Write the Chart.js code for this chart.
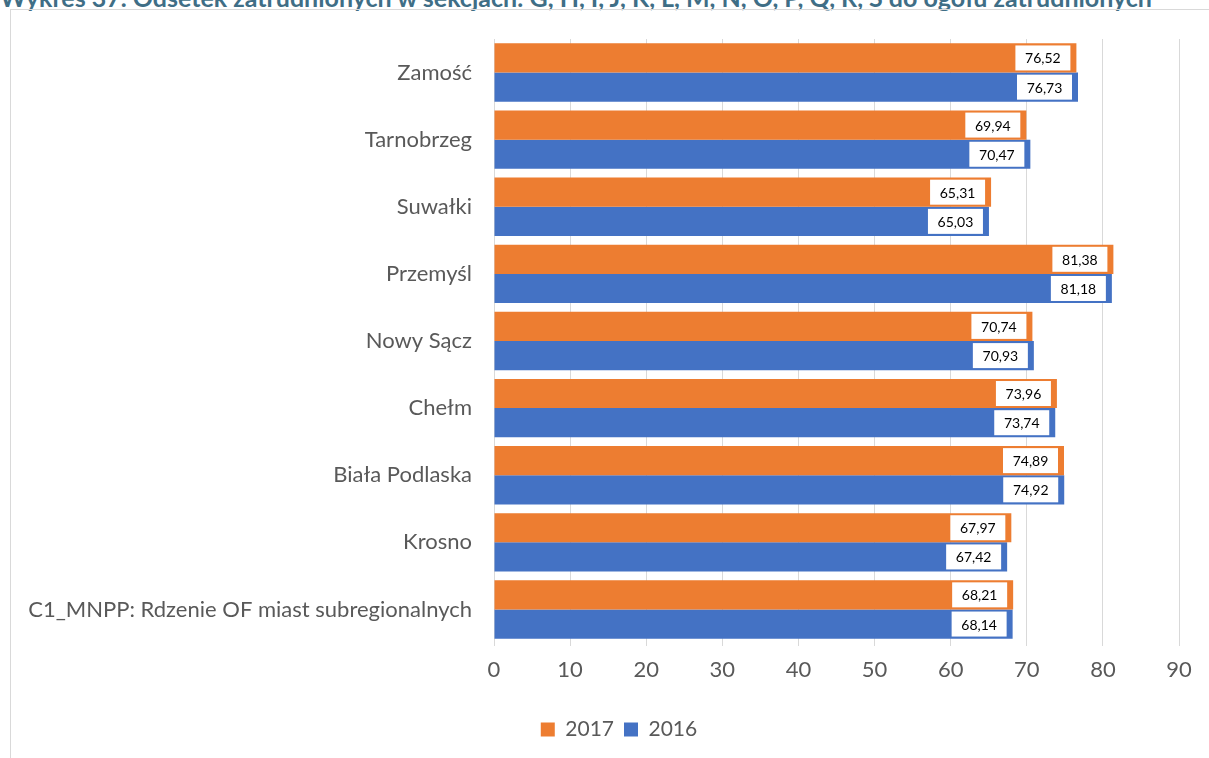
<!DOCTYPE html>
<html>
<head>
<meta charset="utf-8">
<script src="https://cdn.jsdelivr.net/npm/chart.js@4.4.0/dist/chart.umd.min.js"></script>
<style>
  html, body { margin: 0; padding: 0; background: #fff; overflow: hidden; }
  body { width: 1209px; height: 758px; position: relative; }
  #title {
    position: absolute; left: 0; top: -18px; white-space: nowrap; line-height: 24px;
    font: bold 25px "Lato", sans-serif; color: #3f6e86;
  }
  #frame {
    position: absolute; left: 10px; top: 9px; width: 1199px; height: 749px;
    border-left: 1px solid #d9d9d9; border-top: 1px solid #d9d9d9; box-sizing: border-box;
  }
  #wrap { position: absolute; left: 10px; top: 9px; width: 1218px; height: 749px; }
</style>
</head>
<body>
<div id="title">Wykres 37. Odsetek zatrudnionych w sekcjach: G, H, I, J, K, L, M, N, O, P, Q, R, S do ogółu zatrudnionych</div>
<div id="frame"></div>
<div id="wrap"><canvas id="chart"></canvas></div>
<script>
const categories = ['Zamość', 'Tarnobrzeg', 'Suwałki', 'Przemyśl', 'Nowy Sącz', 'Chełm', 'Biała Podlaska', 'Krosno', 'C1_MNPP: Rdzenie OF miast subregionalnych'];
const values2017 = [76.52, 69.94, 65.31, 81.38, 70.74, 73.96, 74.89, 67.97, 68.21];
const values2016 = [76.73, 70.47, 65.03, 81.18, 70.93, 73.74, 74.92, 67.42, 68.14];
const xTicks = [0, 10, 20, 30, 40, 50, 60, 70, 80, 90];

const fontFamily = 'Lato, sans-serif';
const gray = '#595959';

// white value boxes at the end of each bar
const valueBoxes = {
    id: 'valueBoxes',
    afterDatasetsDraw(chart) {
        const ctx = chart.ctx;
        ctx.save();
        ctx.font = '14px ' + fontFamily;
        ctx.textAlign = 'center';
        ctx.textBaseline = 'middle';
        chart.data.datasets.forEach((ds, di) => {
            chart.getDatasetMeta(di).data.forEach((bar, i) => {
                const txt = ds.data[i].toFixed(2).replace('.', ',');
                const w = 55, h = 25;
                const x1 = bar.x - 6 - w;
                const y1 = bar.y - h / 2;
                ctx.fillStyle = '#ffffff';
                ctx.fillRect(x1, y1, w, h);
                ctx.fillStyle = '#000000';
                ctx.fillText(txt, x1 + w / 2, bar.y + 1);
            });
        });
        ctx.restore();
    }
};

new Chart(document.getElementById('chart'), {
    type: 'bar',
    data: {
        labels: categories,
        datasets: [
            { label: '2017', data: values2017, backgroundColor: '#ED7D31' },
            { label: '2016', data: values2016, backgroundColor: '#4472C4' }
        ]
    },
    options: {
        indexAxis: 'y',
        responsive: true,
        maintainAspectRatio: false,
        animation: false,
        datasets: { bar: { categoryPercentage: 0.87, barPercentage: 1.0 } },
        layout: { padding: { top: 30, right: 0, left: 0, bottom: 8 } },
        plugins: {
            tooltip: { enabled: false },
            legend: {
                position: 'bottom',
                labels: { color: gray, font: { family: fontFamily, size: 21 }, boxWidth: 14, boxHeight: 14, padding: 10 }
            }
        },
        scales: {
            x: {
                min: 0, max: 90,
                afterBuildTicks: s => { s.ticks = xTicks.map(v => ({ value: v })); },
                afterFit: s => { s.height = 66; },
                grid: { color: '#d9d9d9', tickLength: 3, drawTicks: true },
                border: { display: false },
                ticks: { color: gray, font: { family: fontFamily, size: 22 }, padding: 11 }
            },
            y: {
                afterFit: s => { s.width = 484; },
                grid: { display: false },
                border: { color: '#d9d9d9' },
                ticks: { color: gray, font: { family: fontFamily, size: 22 }, padding: 14 }
            },
            // empty spacer on the right so the plot ends where the reference does
            spacer: {
                type: 'linear', axis: 'y', position: 'right',
                afterFit: s => { s.width = 49; },
                grid: { display: false },
                border: { display: false },
                ticks: { display: false }
            }
        }
    },
    plugins: [valueBoxes]
});
</script>
</body>
</html>
